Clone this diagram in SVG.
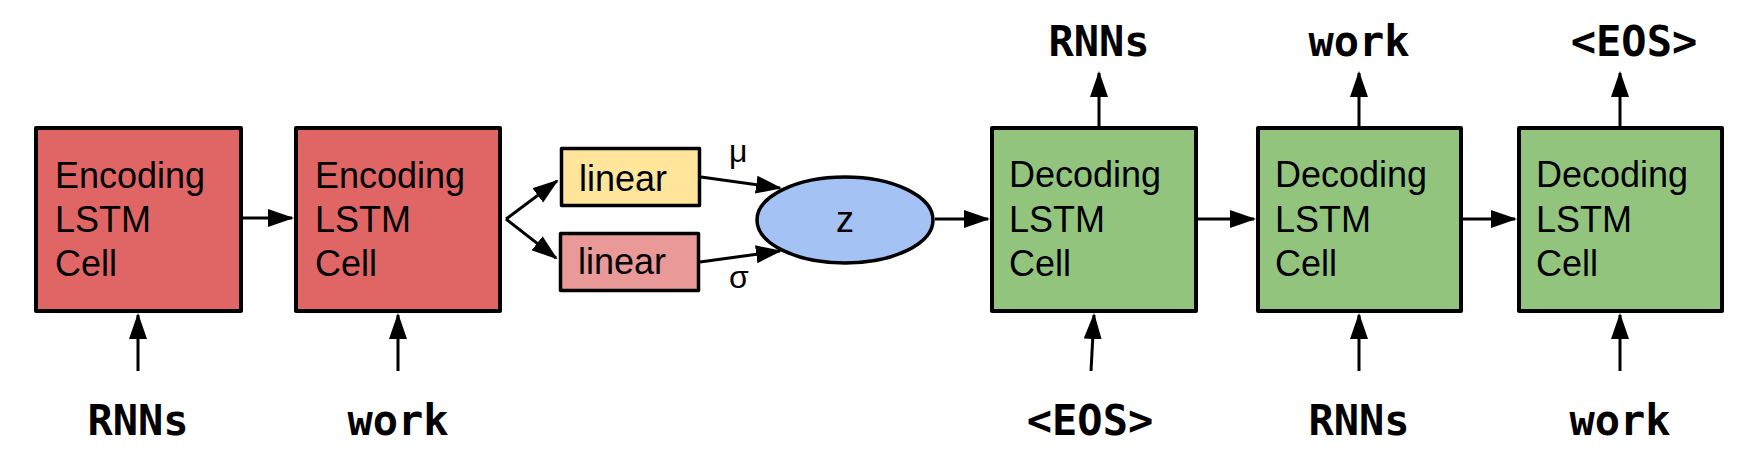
<svg xmlns="http://www.w3.org/2000/svg" width="1758" height="470" viewBox="0 0 1758 470">
<defs>
<style>
.box{stroke:#000;stroke-width:4;stroke-linejoin:round}
.enc{fill:#E06666}
.dec{fill:#93C47D}
.lin{stroke:#000;stroke-width:3.5;stroke-linejoin:round}
.t{font-family:"Liberation Sans",Arial,sans-serif;font-size:36px;fill:#000}
.g{font-family:"Liberation Sans",Arial,sans-serif;font-size:32px;fill:#000}
.m{font-family:"DejaVu Sans Mono",monospace;font-weight:bold;font-size:42px;fill:#000;text-anchor:middle}
.c{stroke:#000;stroke-width:3;fill:none;marker-end:url(#ah)}
</style>
<marker id="ah" markerUnits="userSpaceOnUse" markerWidth="30" markerHeight="22" refX="24" refY="9" orient="auto">
<path d="M0,0 L26,9 L0,18 Z" fill="#000"/>
</marker>
</defs>
<rect width="1758" height="470" fill="#fff"/>

<g id="connectors">
<line class="c" x1="243" y1="218" x2="292" y2="218"/>
<line class="c" x1="506" y1="219" x2="557" y2="181"/>
<line class="c" x1="506" y1="219" x2="556" y2="258"/>
<line class="c" x1="701" y1="177" x2="780" y2="188"/>
<line class="c" x1="700" y1="262" x2="780" y2="251"/>
<line class="c" x1="935" y1="219" x2="988" y2="219"/>
<line class="c" x1="1198" y1="219" x2="1254" y2="219"/>
<line class="c" x1="1463" y1="219" x2="1515" y2="219"/>
<line class="c" x1="138" y1="371" x2="138" y2="315"/>
<line class="c" x1="398" y1="371" x2="398" y2="315"/>
<line class="c" x1="1091" y1="371" x2="1094" y2="315"/>
<line class="c" x1="1359" y1="371" x2="1359" y2="315"/>
<line class="c" x1="1620" y1="371" x2="1620" y2="315"/>
<line class="c" x1="1099" y1="127" x2="1099" y2="73"/>
<line class="c" x1="1359" y1="127" x2="1359" y2="73"/>
<line class="c" x1="1620" y1="127" x2="1620" y2="73"/>
</g>

<g id="enc1">
<rect class="box enc" x="36" y="128" width="205" height="183"/>
<text class="t" x="55" y="188">Encoding</text>
<text class="t" x="55" y="232">LSTM</text>
<text class="t" x="55" y="276">Cell</text>
</g>
<g id="enc2">
<rect class="box enc" x="296" y="128" width="204" height="183"/>
<text class="t" x="315" y="188">Encoding</text>
<text class="t" x="315" y="232">LSTM</text>
<text class="t" x="315" y="276">Cell</text>
</g>
<g id="linear_mu">
<rect class="lin" x="561.5" y="148.5" width="138" height="57" fill="#FFE599"/>
<text class="t" x="579" y="191">linear</text>
</g>
<g id="linear_sigma">
<rect class="lin" x="560.5" y="233.5" width="138" height="57" fill="#EA9999"/>
<text class="t" x="578" y="274">linear</text>
</g>
<g id="z">
<ellipse cx="845" cy="220" rx="88" ry="43" fill="#A4C2F4" stroke="#000" stroke-width="3.5"/>
<text class="t" x="845" y="232" text-anchor="middle">z</text>
</g>
<g id="labels_mu_sigma">
<text class="g" x="729" y="162">μ</text>
<text class="g" x="729" y="288">σ</text>
</g>
<g id="dec1">
<rect class="box dec" x="992" y="128" width="204" height="183"/>
<text class="t" x="1009" y="187">Decoding</text>
<text class="t" x="1009" y="232">LSTM</text>
<text class="t" x="1009" y="276">Cell</text>
</g>
<g id="dec2">
<rect class="box dec" x="1258" y="128" width="203" height="183"/>
<text class="t" x="1275" y="187">Decoding</text>
<text class="t" x="1275" y="232">LSTM</text>
<text class="t" x="1275" y="276">Cell</text>
</g>
<g id="dec3">
<rect class="box dec" x="1519" y="128" width="203" height="183"/>
<text class="t" x="1536" y="187">Decoding</text>
<text class="t" x="1536" y="232">LSTM</text>
<text class="t" x="1536" y="276">Cell</text>
</g>

<g id="inputs">
<text class="m" x="138" y="435">RNNs</text>
<text class="m" x="398" y="435">work</text>
<text class="m" x="1090" y="435">&lt;EOS&gt;</text>
<text class="m" x="1359" y="435">RNNs</text>
<text class="m" x="1620" y="435">work</text>
</g>
<g id="outputs">
<text class="m" x="1099" y="56">RNNs</text>
<text class="m" x="1359" y="56">work</text>
<text class="m" x="1634" y="56">&lt;EOS&gt;</text>
</g>
</svg>
